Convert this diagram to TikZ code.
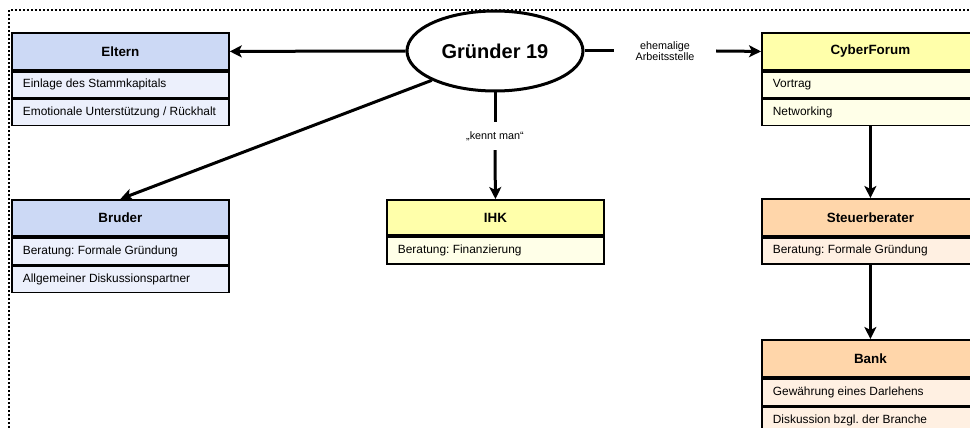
\documentclass[tikz,border=0pt]{standalone}
\usepackage{fontspec}
\setmainfont{Liberation Sans}
\frenchspacing
\usetikzlibrary{shapes.geometric,arrows.meta}
\definecolor{bluehd}{RGB}{204,217,245}
\definecolor{bluerow}{RGB}{236,240,252}
\definecolor{yelhd}{RGB}{255,255,170}
\definecolor{yelrow}{RGB}{255,255,232}
\definecolor{orahd}{RGB}{255,214,170}
\definecolor{orarow}{RGB}{255,240,226}
\newcommand{\rowtxt}[1]{\makebox[195pt][l]{#1}}
\tikzset{
  hdr/.style={draw, line width=1.8pt, anchor=north west, minimum width=217pt, minimum height=37pt, inner sep=0pt,
    font=\bfseries\fontsize{13.4}{15}\selectfont},
  rowbox/.style={draw, line width=1.8pt, anchor=north west, minimum width=217pt, inner xsep=11pt, inner ysep=0pt,
    minimum height=26pt, font=\fontsize{11.9}{13}\selectfont},
  rowboxhigh/.style={rowbox, minimum height=27pt},
  conn/.style={line width=3pt},
  arr/.style={line width=3pt, -{Stealth[length=12pt,width=12pt,inset=3pt]}},
  lbl/.style={font=\fontsize{10.8}{11.5}\selectfont, align=center, inner sep=0pt},
}
\begin{document}
\begin{tikzpicture}[x=1pt,y=-1pt]
\path[use as bounding box] (0,0) rectangle (970,428);
\clip (0,0) rectangle (970,428);
% dotted frame
\draw[line width=1.6pt, dash pattern=on 1.6pt off 2.4pt] (9,440) -- (9,10) -- (990,10);

% Gruender
\node[draw, ellipse, line width=3pt, minimum width=176pt, minimum height=80pt, inner sep=0pt,
  font=\bfseries\fontsize{20}{24}\selectfont] (g) at (495,51) {Gründer 19};

% Eltern
\node[hdr, fill=bluehd] (eltern) at (11,32) {Eltern};
\node[rowbox, fill=bluerow] (e1) at (eltern.south west) {\rowtxt{Einlage des Stammkapitals}};
\node[rowbox, fill=bluerow] (e2) at (e1.south west) {\rowtxt{Emotionale Unterstützung / Rückhalt}};

% Bruder
\node[hdr, fill=bluehd, minimum height=36pt] (bruder) at (11,199) {Bruder};
\node[rowboxhigh, fill=bluerow] (b1) at (bruder.south west) {\rowtxt{Beratung: Formale Gründung}};
\node[rowbox, fill=bluerow] (b2) at (b1.south west) {\rowtxt{Allgemeiner Diskussionspartner}};

% IHK
\node[hdr, fill=yelhd, minimum height=35pt] (ihk) at (386,199) {IHK};
\node[rowboxhigh, fill=yelrow] (i1) at (ihk.south west) {\rowtxt{Beratung: Finanzierung}};

% CyberForum
\node[hdr, fill=yelhd] (cyber) at (761,32) {CyberForum};
\node[rowbox, fill=yelrow] (c1) at (cyber.south west) {\rowtxt{Vortrag}};
\node[rowbox, fill=yelrow] (c2) at (c1.south west) {\rowtxt{Networking}};

% Steuerberater
\node[hdr, fill=orahd] (steuer) at (761,198) {Steuerberater};
\node[rowbox, fill=orarow] (s1) at (steuer.south west) {\rowtxt{Beratung: Formale Gründung}};

% Bank
\node[hdr, fill=orahd] (bank) at (761,339) {Bank};
\node[rowboxhigh, fill=orarow] (k1) at (bank.south west) {\rowtxt{Gewährung eines Darlehens}};
\node[rowbox, fill=orarow] (k2) at (k1.south west) {\rowtxt{Diskussion bzgl. der Branche}};

% labels
\node[lbl, minimum width=102pt] (ehem) at (665,51) {ehemalige\\Arbeitsstelle};
\node[lbl, minimum height=28pt] (kennt) at (495,136) {„kennt man“};

% connectors
\draw[arr] (g.west) -- (eltern.east);
\draw[arr] (g.south west) -- (bruder.north);
\draw[conn] (g.south) -- (kennt.north);
\draw[arr] (kennt.south) -- (ihk.north);
\draw[conn] (g.east) -- (ehem.west);
\draw[arr] (ehem.east) -- (cyber.west);
\draw[arr] (c2.south) -- (steuer.north);
\draw[arr] (s1.south) -- (bank.north);
\end{tikzpicture}
\end{document}
